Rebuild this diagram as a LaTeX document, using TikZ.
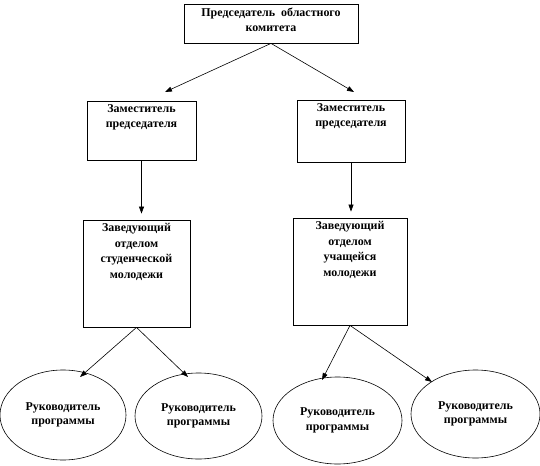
\documentclass[tikz,border=0pt]{standalone}
\usepackage{fontspec}
\setmainfont{Liberation Serif}
\usetikzlibrary{arrows.meta,shapes.geometric}
\tikzset{
  box/.style={draw,line width=0.8pt,inner sep=0pt,font=\bfseries\fontsize{12}{15.5}\selectfont},
  oval/.style={draw,ellipse,line width=0.6pt,inner sep=0pt,align=center,font=\bfseries\fontsize{12}{14.5}\selectfont},
  conn/.style={line width=0.6pt,-{Triangle[length=7pt,width=5pt]}}
}
\newcommand{\boxtext}[3]{\parbox[c][#2][t]{#1}{\centering\vspace*{3.5bp}#3\par}}
\begin{document}
\begin{tikzpicture}[x=1bp,y=-1bp]
\useasboundingbox (0,0) rectangle (540,466);
\node[box] (top) at (271,23.5) {\boxtext{174bp}{39bp}{Председатель\ \ областного\\ комитета}};
\node[box] (dl) at (141.5,130.5) {\boxtext{109bp}{59bp}{Заместитель\\ председателя}};
\node[box] (dr) at (351,131) {\boxtext{108bp}{62bp}{Заместитель\\ председателя}};
\node[box] (sl) at (136.5,273.5) {\boxtext{107bp}{107bp}{Заведующий\\ отделом\\ студенческой\\ молодежи}};
\node[box] (sr) at (350,271.5) {\boxtext{114bp}{107bp}{Заведующий\\ отделом\\ учащейся\\ молодежи}};
\node[oval,minimum width=126bp,minimum height=90bp] (e1) at (63,415) {Руководитель\\ программы};
\node[oval,minimum width=127bp,minimum height=86bp] (e2) at (198.5,416) {Руководитель\\ программы};
\node[oval,minimum width=129bp,minimum height=87bp] (e3) at (337.5,420.5) {Руководитель\\ программы};
\node[oval,minimum width=129bp,minimum height=88bp] (e4) at (475.5,414) {Руководитель\\ программы};
\coordinate (t1) at (165,92);
\coordinate (t2) at (354,92);
\coordinate (t3) at (80,377);
\coordinate (t4) at (188,377);
\coordinate (t5) at (322,380);
\coordinate (t6) at (432,382);
\draw[conn] (top.south) -- (t1);
\draw[conn] (top.south) -- (t2);
\draw[conn,shorten >=6bp] (dl.south) -- (dl.south |- sl.north);
\draw[conn,shorten >=6bp] (dr.south) -- (dr.south |- sr.north);
\draw[conn] (sl.south) -- (t3);
\draw[conn] (sl.south) -- (t4);
\draw[conn] (sr.south) -- (t5);
\draw[conn] (sr.south) -- (t6);
\end{tikzpicture}
\end{document}
